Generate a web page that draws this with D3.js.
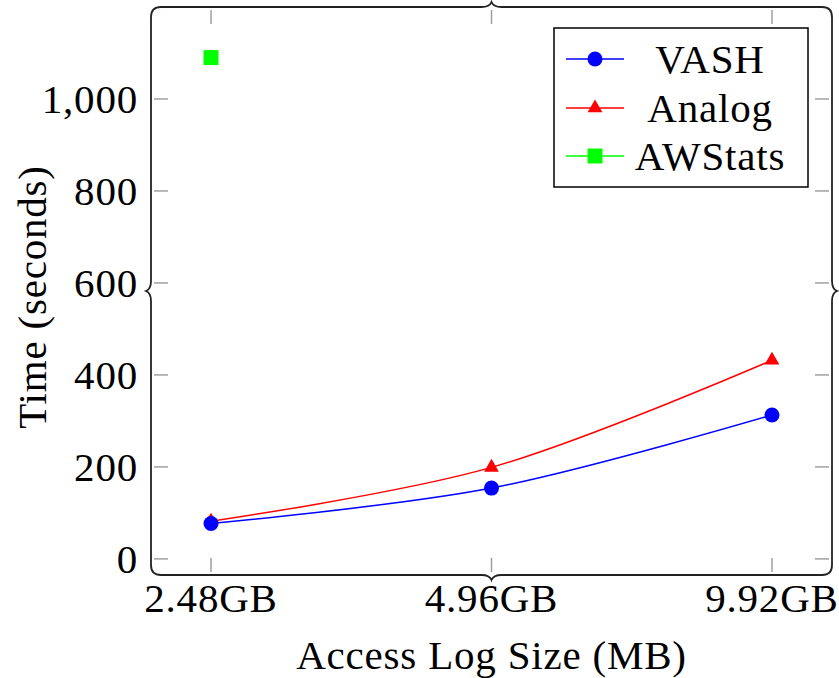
<!DOCTYPE html>
<html><head><meta charset="utf-8">
<script src="https://cdn.jsdelivr.net/npm/d3@7"></script>
<style>body{margin:0;background:#fff}svg{display:block}</style>
</head><body><svg id="c" width="839" height="678"></svg>
<script>
const categories = ["2.48GB","4.96GB","9.92GB"];
const vash = [77, 154, 313];
const analog = [82, 199, 432];
const awstats = [1090, null, null];
const yTicks = [0, 200, 400, 600, 800, 1000];
const seriesNames = ["VASH","Analog","AWStats"];

const FONT = '"Liberation Serif", "DejaVu Serif", serif';
const L=151, R=832, T=7, B=575;
const svg = d3.select("#c").attr("font-family", FONT);
const x = d3.scaleLinear().domain([0.786, 3.214]).range([L, R]);
const y = d3.scaleLinear().domain([-35, 1200]).range([B, T]);
const fs = 41, ls = 0.8;

// ticks (inward, gray)
const tl = 14, gap = 3;
const tg = svg.append("g").attr("stroke","#999").attr("stroke-width",1.4);
categories.forEach((c,i)=>{
  const xx = x(i+1);
  tg.append("line").attr("x1",xx).attr("x2",xx).attr("y1",B-gap).attr("y2",B-gap-tl);
  tg.append("line").attr("x1",xx).attr("x2",xx).attr("y1",T+gap).attr("y2",T+gap+tl);
});
yTicks.forEach(v=>{
  const yy = y(v);
  tg.append("line").attr("y1",yy).attr("y2",yy).attr("x1",L+gap).attr("x2",L+gap+tl);
  tg.append("line").attr("y1",yy).attr("y2",yy).attr("x1",R-gap).attr("x2",R-gap-tl);
});

// frame with rounded corners and braces
const r = 10, bw = 10, bh = 5;
const cx = (L+R)/2, cy = (T+B)/2;
const p = d3.path();
p.moveTo(L+r, T);
p.lineTo(cx-bw, T); p.quadraticCurveTo(cx-2, T, cx, T-bh); p.quadraticCurveTo(cx+2, T, cx+bw, T);
p.lineTo(R-r, T); p.quadraticCurveTo(R, T, R, T+r);
p.lineTo(R, cy-bw); p.quadraticCurveTo(R, cy-2, R+bh, cy); p.quadraticCurveTo(R, cy+2, R, cy+bw);
p.lineTo(R, B-r); p.quadraticCurveTo(R, B, R-r, B);
p.lineTo(cx+bw, B); p.quadraticCurveTo(cx+2, B, cx, B+bh); p.quadraticCurveTo(cx-2, B, cx-bw, B);
p.lineTo(L+r, B); p.quadraticCurveTo(L, B, L, B-r);
p.lineTo(L, cy+bw); p.quadraticCurveTo(L, cy+2, L-bh, cy); p.quadraticCurveTo(L, cy-2, L, cy-bw);
p.lineTo(L, T+r); p.quadraticCurveTo(L, T, L+r, T);
p.closePath();
svg.append("path").attr("d", p.toString()).attr("fill","none").attr("stroke","#222").attr("stroke-width",1.8);

// tick labels
categories.forEach((c,i)=>{
  svg.append("text").attr("x",x(i+1)).attr("y",612).attr("text-anchor","middle").attr("font-size",fs).attr("letter-spacing",ls).text(c);
});
yTicks.forEach(v=>{
  svg.append("text").attr("x",L-13).attr("y",y(v)+14).attr("text-anchor","end").attr("font-size",fs).attr("letter-spacing",ls).text(d3.format(",")(v));
});
svg.append("text").attr("x",x(2)).attr("y",669).attr("text-anchor","middle").attr("font-size",fs).attr("letter-spacing",ls).text("Access Log Size (MB)");
svg.append("text").attr("transform","translate(46,297) rotate(-90)").attr("text-anchor","middle").attr("font-size",fs).attr("letter-spacing",ls).text("Time (seconds)");

const line = d3.line().x(d=>x(d[0])).y(d=>y(d[1])).curve(d3.curveCatmullRom.alpha(0.5));
function pts(arr){return arr.map((v,i)=>[i+1,v]);}
const series = [
  {name:seriesNames[0], data:vash, color:"#0000ff", sym:d3.symbolCircle, size:177},
  {name:seriesNames[1], data:analog, color:"#ff0000", sym:d3.symbolTriangle, size:95},
  {name:seriesNames[2], data:awstats, color:"#00ff00", sym:d3.symbolSquare, size:225}
];
[series[1], series[0], series[2]].forEach(s=>{
  const d = pts(s.data).filter(q=>q[1]!=null);
  if (d.length>1) svg.append("path").attr("d", line(d)).attr("fill","none").attr("stroke",s.color).attr("stroke-width",1.5);
});
[series[1], series[0], series[2]].forEach(s=>{
  pts(s.data).filter(q=>q[1]!=null).forEach(q=>{
    svg.append("path").attr("d", d3.symbol(s.sym, s.size)()).attr("transform",`translate(${x(q[0])},${y(q[1])})`).attr("fill",s.color);
  });
});

// legend
const lx=554, ly=28, lw=254, lh=159;
svg.append("rect").attr("x",lx).attr("y",ly).attr("width",lw).attr("height",lh).attr("fill","#fff").attr("stroke","#000").attr("stroke-width",1.5);
const rowY=[59,108,156];
series.forEach((s,i)=>{
  svg.append("line").attr("x1",566).attr("x2",624).attr("y1",rowY[i]).attr("y2",rowY[i]).attr("stroke",s.color).attr("stroke-width",1.5);
  svg.append("path").attr("d", d3.symbol(s.sym, s.size)()).attr("transform",`translate(595,${rowY[i]})`).attr("fill",s.color);
  svg.append("text").attr("x",710).attr("y",rowY[i]+14).attr("text-anchor","middle").attr("font-size",fs).attr("letter-spacing",ls).text(s.name);
});
</script></body></html>
